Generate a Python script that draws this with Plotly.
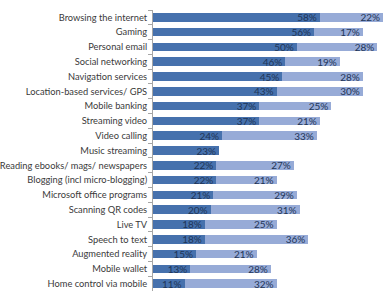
import plotly.graph_objects as go

categories = ["Browsing the internet", "Gaming", "Personal email", "Social networking",
              "Navigation services", "Location-based services/ GPS", "Mobile banking",
              "Streaming video", "Video calling", "Music streaming",
              "Reading ebooks/ mags/ newspapers", "Blogging (incl micro-blogging)",
              "Microsoft office programs", "Scanning QR codes", "Live TV", "Speech to text",
              "Augmented reality", "Mobile wallet", "Home control via mobile"]
series_a = [58, 56, 50, 46, 45, 43, 37, 37, 24, 23, 22, 22, 21, 20, 18, 18, 15, 13, 11]
series_b = [22, 17, 28, 19, 28, 30, 25, 21, 33, None, 27, 21, 29, 31, 25, 36, 21, 28, 32]

pct_font = dict(size=10, color="#1F3557", family="Lato")

fig = go.Figure()
fig.add_trace(go.Bar(
    y=categories, x=series_a, orientation="h", marker_color="#4671AD",
    marker_line_width=0,
    text=[f"{v}%" for v in series_a], textposition="inside", insidetextanchor="end",
    textangle=0, textfont=pct_font,
))
fig.add_trace(go.Bar(
    y=categories, x=series_b, orientation="h", marker_color="#97ABD7",
    marker_line_width=0,
    text=[f"{v}%" if v is not None else "" for v in series_b], textposition="inside",
    insidetextanchor="end", textangle=0, textfont=pct_font,
))
fig.update_layout(
    barmode="stack", bargap=0.42, showlegend=False,
    width=385, height=296, margin=dict(l=153, r=2, t=10, b=5),
    paper_bgcolor="white", plot_bgcolor="white",
    uniformtext=dict(minsize=8, mode="show"),
    font=dict(family="Lato", size=9.3, color="#3A3A3A"),
)
fig.update_xaxes(range=[0, 80], visible=False, automargin=False)
fig.update_yaxes(autorange="reversed", showline=True, linecolor="#A6A6A6", linewidth=1,
                 ticks="outside", ticklen=4, tickcolor="#A6A6A6", tickson="boundaries",
                 ticklabelstandoff=3, showgrid=False, automargin=False,
                 tickfont=dict(size=9.3, color="#3A3A3A", family="Lato"))
fig.write_html("out.html")
